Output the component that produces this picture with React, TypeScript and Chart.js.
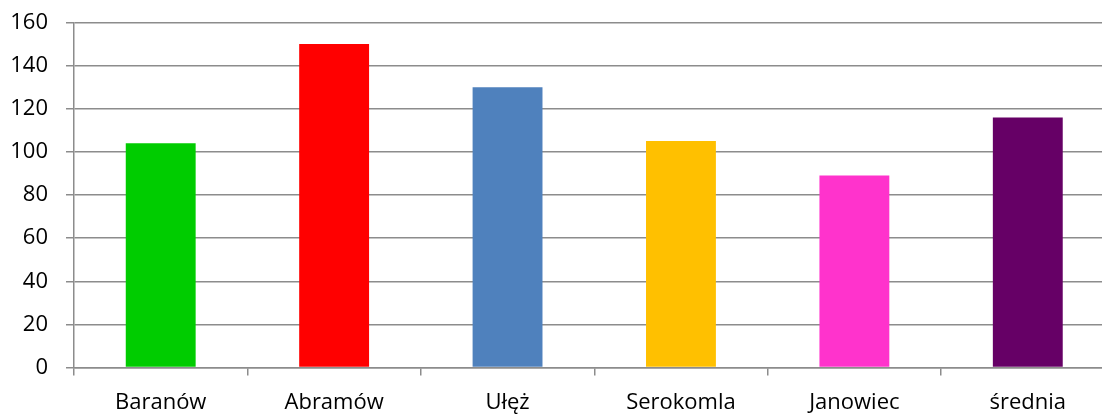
import React, { useEffect, useRef } from "react";
import { Chart, registerables } from "chart.js";

Chart.register(...registerables);

const categories = ["Baranów", "Abramów", "Ułęż", "Serokomla", "Janowiec", "średnia"];
const values = [104, 150, 130, 105, 89, 116];
const barColors = ["#00CC00", "#FF0000", "#4F81BD", "#FFC000", "#FF33CC", "#660066"];
const yTicks = [0, 20, 40, 60, 80, 100, 120, 140, 160];

const FONT = "'Open Sans', 'Liberation Sans', sans-serif";
const GRID = "#8c8c8c";

export default function App() {
  const ref = useRef<HTMLCanvasElement | null>(null);

  useEffect(() => {
    document.body.style.margin = "0";
    document.body.style.overflow = "hidden";
    const canvas = ref.current;
    if (!canvas) return;
    const chart = new Chart(canvas, {
      type: "bar",
      data: {
        labels: categories,
        datasets: [
          {
            data: values,
            backgroundColor: barColors,
            borderWidth: 0,
            categoryPercentage: 1,
            barPercentage: 0.403,
          },
        ],
      },
      options: {
        responsive: false,
        animation: false,
        devicePixelRatio: 1,
        layout: { padding: { top: 22.5, left: 8, right: 7.5, bottom: 0 } },
        plugins: { legend: { display: false }, tooltip: { enabled: false } },
        scales: {
          x: {
            afterFit: (axis: any) => {
              axis.height = 46.5;
              axis.paddingTop = 0;
              axis.paddingBottom = 0;
            },
            grid: {
              display: true,
              drawOnChartArea: false,
              drawTicks: true,
              tickLength: 8,
              color: GRID,
              lineWidth: 1.5,
              offset: true,
            },
            border: { display: true, color: GRID, width: 1.5 },
            ticks: {
              color: "#000",
              font: { family: FONT, size: 22 },
              padding: 13.8,
              maxRotation: 0,
              autoSkip: false,
            },
          },
          y: {
            min: 0,
            max: 160,
            afterFit: (axis: any) => {
              axis.width = 66;
              axis.paddingTop = 0;
              axis.paddingBottom = 0;
            },
            afterBuildTicks: (axis: any) => {
              axis.ticks = yTicks.map((v) => ({ value: v }));
            },
            grid: {
              display: true,
              drawOnChartArea: true,
              drawTicks: true,
              tickLength: 8,
              color: GRID,
              lineWidth: 1.5,
            },
            border: { display: true, color: GRID, width: 1.5 },
            ticks: {
              color: "#000",
              font: { family: FONT, size: 22 },
              padding: 18,
            },
          },
        },
      },
    });
    return () => chart.destroy();
  }, []);

  return (
    <div style={{ position: "fixed", left: 0, top: 0, width: 1102, height: 414, overflow: "hidden", background: "#fff" }}>
      <canvas ref={ref} width={1122} height={414} style={{ display: "block" }} />
    </div>
  );
}
